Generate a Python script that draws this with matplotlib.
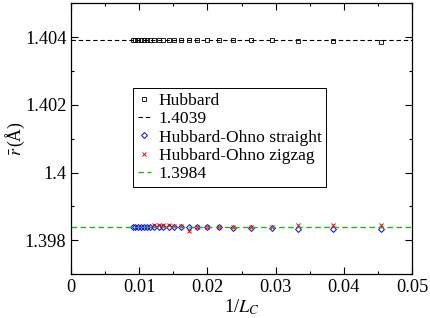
import matplotlib
matplotlib.use("Agg")
import matplotlib.pyplot as plt
from matplotlib.ticker import MultipleLocator, FuncFormatter
import numpy as np

# chain lengths L_C (1/L_C on x)
L_ALL = list(range(22, 111, 4))
L_ZIGZAG = list(range(22, 83, 4))

# mean bond length (Angstrom), ordered as L_ALL / L_ZIGZAG
HUBBARD = [1.40385, 1.40388, 1.40389, 1.40390, 1.40391, 1.40391, 1.40391,
           1.40391, 1.40391, 1.40392, 1.40392, 1.40392, 1.40392, 1.40392,
           1.40392, 1.40392, 1.40392, 1.40392, 1.40392, 1.40392, 1.40392,
           1.40392, 1.40392]
HO_STRAIGHT = [1.39833, 1.39832, 1.39833, 1.39835, 1.39836, 1.39837, 1.39838,
               1.39838, 1.39838, 1.39838, 1.39838, 1.39838, 1.39838, 1.39838,
               1.39838, 1.39838, 1.39838, 1.39838, 1.39838, 1.39838, 1.39838,
               1.39838, 1.39838]
HO_ZIGZAG = [1.39845, 1.39844, 1.39845, 1.39840, 1.39838, 1.39838, 1.39838,
             1.39839, 1.39838, 1.39828, 1.39842, 1.39843, 1.39846, 1.39844,
             1.39846, 1.39844]
FIT_HUBBARD = 1.4039
FIT_OHNO = 1.3984

plt.rcParams.update({
    "font.family": ["Liberation Serif", "DejaVu Serif"],
    "mathtext.fontset": "stix",
    "font.size": 10.5,
    "xtick.direction": "in",
    "ytick.direction": "in",
    "xtick.top": True,
    "ytick.right": True,
})

fig = plt.figure(figsize=(4.31, 3.18), dpi=100)
ax = fig.add_axes([0.165, 0.138, 0.791, 0.852])

x_all = 1.0 / np.array(L_ALL)
x_zz = 1.0 / np.array(L_ZIGZAG)

ax.plot(x_all, HUBBARD, ls="none", marker="s", ms=3.3, mfc="none",
        mec="black", mew=0.6, label="Hubbard")
ax.axhline(FIT_HUBBARD, color="black", ls=(0, (4, 2.5)), lw=0.8,
           label="1.4039")
ax.plot(x_all, HO_STRAIGHT, ls="none", marker="D", ms=3.0, mfc="none",
        mec="blue", mew=0.7, label="Hubbard-Ohno straight")
ax.plot(x_zz, HO_ZIGZAG, ls="none", marker="x", ms=3.2, color="red",
        mew=0.7, label="Hubbard-Ohno zigzag")
ax.axhline(FIT_OHNO, color="#1fb31f", ls=(0, (4, 2.5)), lw=1.0,
           label="1.3984")

ax.set_xlim(0, 0.05)
ax.set_ylim(1.397, 1.405)
ax.xaxis.set_major_locator(MultipleLocator(0.01))
ax.xaxis.set_minor_locator(MultipleLocator(0.005))
ax.yaxis.set_major_locator(MultipleLocator(0.002))
ax.yaxis.set_minor_locator(MultipleLocator(0.001))
fmt = FuncFormatter(lambda v, p: f"{round(v, 6):g}")
ax.xaxis.set_major_formatter(fmt)
ax.yaxis.set_major_formatter(fmt)
ax.tick_params(which="major", length=5, width=0.8, labelsize=13.2)
ax.tick_params(which="minor", length=2.5, width=0.8)
for s in ax.spines.values():
    s.set_linewidth(0.9)

ax.set_xlabel(r"1/$L_C$", fontsize=13.2, labelpad=1)
ax.set_ylabel(r"$\bar{r}\,$(Å)", fontsize=12.8)
ax.yaxis.set_label_coords(-0.128, 0.5)

leg = ax.legend(loc="upper left", bbox_to_anchor=(0.182, 0.686), numpoints=1,
                handlelength=0.75, handletextpad=0.45, borderpad=0.25,
                borderaxespad=0, labelspacing=0.12, fontsize=12.6,
                fancybox=False, edgecolor="black", framealpha=1)
leg.get_frame().set_linewidth(0.7)

fig.savefig("out.png", dpi=100)
